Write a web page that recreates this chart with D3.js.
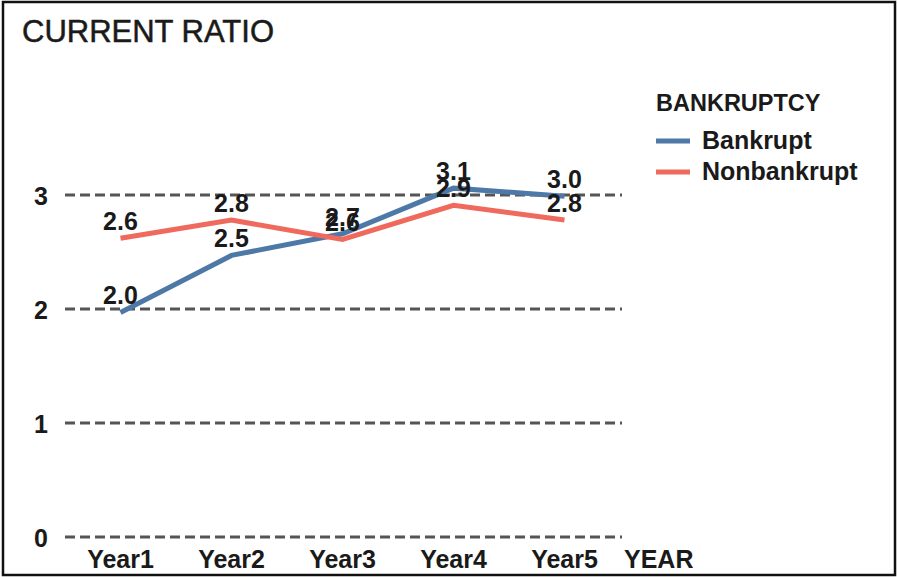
<!DOCTYPE html>
<html>
<head>
<meta charset="utf-8">
<script src="https://cdn.jsdelivr.net/npm/d3@7"></script>
<style>
  html, body { margin: 0; padding: 0; background: #fff; }
  svg { display: block; }
  text { font-family: "Liberation Sans", Arial, sans-serif; fill: #1a1a1a; }
</style>
</head>
<body>
<svg id="chart" width="898" height="577"></svg>
<script>
// Current ratio by year, per bankruptcy group
const years = ["Year1", "Year2", "Year3", "Year4", "Year5"];
const bankrupt = [1.97, 2.47, 2.66, 3.06, 2.99];
const nonbankrupt = [2.62, 2.78, 2.61, 2.91, 2.78];
const yTicks = [0, 1, 2, 3];
const seriesNames = ["Bankrupt", "Nonbankrupt"];
const seriesColors = ["#4e79a7", "#ef6a5c"];

const series = [
  { name: seriesNames[0], color: seriesColors[0], values: bankrupt },
  { name: seriesNames[1], color: seriesColors[1], values: nonbankrupt }
];

const svg = d3.select("#chart");
const W = 898, H = 577;

// frame
svg.append("rect")
  .attr("x", 3).attr("y", 2).attr("width", W - 6).attr("height", H - 4)
  .attr("fill", "#fff").attr("stroke", "#111").attr("stroke-width", 2.5);

// title
svg.append("text")
  .attr("x", 22).attr("y", 42)
  .attr("font-size", 31).attr("font-weight", "normal")
  .attr("stroke", "#1a1a1a").attr("stroke-width", 0.5)
  .text("CURRENT RATIO");

const plot = { left: 65, right: 620, top: 195, bottom: 537 };

const x = d3.scaleBand().domain(years).range([plot.left, plot.right]);
const y = d3.scaleLinear().domain([0, 3]).range([plot.bottom, plot.top]);

// horizontal dashed gridlines
svg.append("g")
  .selectAll("line")
  .data(yTicks)
  .join("line")
  .attr("x1", plot.left).attr("x2", plot.right + 2)
  .attr("y1", d => y(d)).attr("y2", d => y(d))
  .attr("stroke", "#555").attr("stroke-width", 3)
  .attr("stroke-dasharray", "10,5");

// y axis (labels only)
const yAxis = d3.axisLeft(y).tickValues(yTicks).tickFormat(d3.format("d")).tickSize(0).tickPadding(0);
const gy = svg.append("g").attr("transform", `translate(${plot.left - 17},0)`).call(yAxis);
gy.select(".domain").remove();
gy.selectAll("text")
  .attr("font-size", 25).attr("font-weight", "bold")
  .attr("fill", "#1a1a1a")
  .attr("font-family", "'Liberation Sans', Arial, sans-serif")
  .attr("dy", "0.36em");

// x axis (labels only)
const xAxis = d3.axisBottom(x).tickSize(0).tickPadding(0);
const gx = svg.append("g").attr("transform", `translate(0,${plot.bottom})`).call(xAxis);
gx.select(".domain").remove();
gx.selectAll("text")
  .attr("font-size", 25).attr("font-weight", "bold")
  .attr("fill", "#1a1a1a")
  .attr("font-family", "'Liberation Sans', Arial, sans-serif")
  .attr("dy", null)
  .attr("y", 31);

// x axis title
svg.append("text")
  .attr("x", plot.right + 4).attr("y", plot.bottom + 31)
  .attr("font-size", 25).attr("font-weight", "bold")
  .text("YEAR");

// lines
const line = d3.line()
  .x((d, i) => x(years[i]) + x.bandwidth() / 2)
  .y(d => y(d));

svg.append("g")
  .selectAll("path")
  .data(series)
  .join("path")
  .attr("d", d => line(d.values))
  .attr("fill", "none")
  .attr("stroke", d => d.color)
  .attr("stroke-width", 5)
  .attr("stroke-linejoin", "miter");

// value labels
const fmt = d3.format(".1f");
series.forEach(s => {
  svg.append("g")
    .selectAll("text")
    .data(s.values)
    .join("text")
    .attr("x", (d, i) => x(years[i]) + x.bandwidth() / 2)
    .attr("y", d => y(d) - 8)
    .attr("text-anchor", "middle")
    .attr("font-size", 25).attr("font-weight", "bold")
    .text(d => fmt(d));
});

// legend
const legend = svg.append("g").attr("transform", "translate(656,0)");
legend.append("text")
  .attr("x", 0).attr("y", 111)
  .attr("font-size", 23.5).attr("font-weight", "bold")
  .text("BANKRUPTCY");
const items = legend.selectAll("g.item")
  .data(series)
  .join("g")
  .attr("class", "item")
  .attr("transform", (d, i) => `translate(0,${141 + i * 31})`);
items.append("line")
  .attr("x1", 0).attr("x2", 34).attr("y1", 0).attr("y2", 0)
  .attr("stroke", d => d.color).attr("stroke-width", 5);
items.append("text")
  .attr("x", 46).attr("y", 8)
  .attr("font-size", 25).attr("font-weight", "bold")
  .text(d => d.name);
</script>
</body>
</html>
